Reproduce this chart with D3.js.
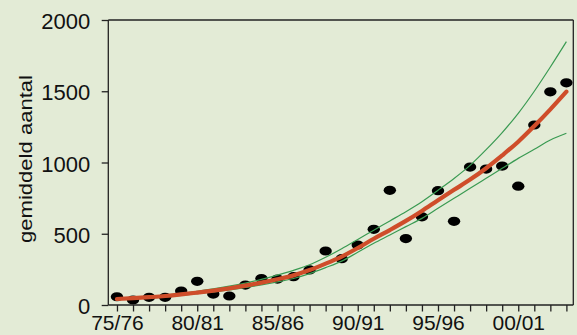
<!DOCTYPE html>
<html>
<head>
<meta charset="utf-8">
<script src="https://cdn.jsdelivr.net/npm/d3@7"></script>
<style>
  html, body { margin: 0; padding: 0; background: #e3ebd6; }
  svg { display: block; }
  text { font-family: "Liberation Sans", Arial, sans-serif; fill: #111; }
</style>
</head>
<body>
<svg id="chart" width="577" height="335"></svg>
<script>
// seasons 75/76 .. 03/04
const seasons = ["75/76","76/77","77/78","78/79","79/80","80/81","81/82","82/83","83/84","84/85",
  "85/86","86/87","87/88","88/89","89/90","90/91","91/92","92/93","93/94","94/95",
  "95/96","96/97","97/98","98/99","99/00","00/01","01/02","02/03","03/04"];
const tickLabels = ["75/76","80/81","85/86","90/91","95/96","00/01"];
const yTicks = [0, 500, 1000, 1500, 2000];
// observed average counts
const observed = [58,35,54,54,98,166,77,63,140,186,182,199,246,379,325,421,531,805,466,619,802,587,968,954,975,834,1263,1496,1559];
// fitted trend
const trend = [42,48,55,63,74,87,101,117,136,157,181,208,245,290,340,400,465,526,590,660,735,808,880,960,1050,1146,1256,1373,1497];
// confidence band
const upper = [46,53,61,70,82,96,113,132,154,180,210,243,282,335,395,460,525,590,655,725,805,888,980,1090,1210,1345,1500,1670,1848];
const lower = [38,44,50,57,67,79,92,106,123,141,162,186,220,262,308,370,433,491,550,608,679,749,819,889,959,1029,1093,1158,1205];

const svg = d3.select("#chart");
const L = 108.3, R = 573.3, T = 20, B = 305;

const x = d3.scaleLinear().domain([-0.54, 28.43]).range([L, R]);
const y = d3.scaleLinear().domain([0, 2000]).range([B, T]);

const axisColor = "#222";

// points
svg.append("g").selectAll("ellipse").data(observed).join("ellipse")
  .attr("cx", (d, i) => x(i)).attr("cy", d => y(d))
  .attr("rx", 6.2).attr("ry", 4.6).attr("fill", "#000");

const line = arr => d3.line().x((d, i) => x(i)).y(d => y(d)).curve(d3.curveMonotoneX)(arr);

svg.append("path").attr("d", line(upper)).attr("fill", "none")
  .attr("stroke", "#3a9a52").attr("stroke-width", 1.2);
svg.append("path").attr("d", line(lower)).attr("fill", "none")
  .attr("stroke", "#3a9a52").attr("stroke-width", 1.2);
svg.append("path").attr("d", line(trend)).attr("fill", "none")
  .attr("stroke", "#cf4d2a").attr("stroke-width", 4.2).attr("stroke-linecap", "round");

// frame
const frame = svg.append("g").attr("stroke", axisColor).attr("stroke-width", 1.3).attr("fill", "none");
frame.append("line").attr("x1", L).attr("x2", R).attr("y1", T).attr("y2", T);
frame.append("line").attr("x1", R).attr("x2", R).attr("y1", T).attr("y2", B);

// y axis
const yAxis = svg.append("g").attr("transform", `translate(${L},0)`)
  .call(d3.axisLeft(y).tickValues(yTicks).tickSize(6.6).tickFormat(d3.format("d")));
yAxis.select(".domain").attr("stroke", axisColor).attr("stroke-width", 1.3)
  .attr("d", `M0,${T}V${B}`);
yAxis.selectAll(".tick line").attr("stroke", axisColor).attr("stroke-width", 1.3);
yAxis.selectAll(".tick text").attr("font-size", 22).attr("font-family", "Liberation Sans, Arial, sans-serif")
  .attr("fill", "#111").attr("dy", null).attr("y", 8.5).attr("x", -18);

// x axis
const xAxis = svg.append("g").attr("transform", `translate(0,${B})`)
  .call(d3.axisBottom(x).tickValues(d3.range(seasons.length)).tickSize(6.5)
    .tickFormat(i => tickLabels.includes(seasons[i]) ? seasons[i] : ""));
xAxis.select(".domain").attr("stroke", axisColor).attr("stroke-width", 1.3)
  .attr("d", `M${L},0H${R}`);
xAxis.selectAll(".tick line").attr("stroke", axisColor).attr("stroke-width", 1.3);
xAxis.selectAll(".tick text").attr("font-size", 21).attr("font-family", "Liberation Sans, Arial, sans-serif")
  .attr("fill", "#111").attr("dy", null).attr("y", 25);

// y title
svg.append("text")
  .attr("transform", "translate(31.5,159) rotate(-90)")
  .attr("text-anchor", "middle")
  .attr("font-size", 19)
  .attr("textLength", 168).attr("lengthAdjust", "spacingAndGlyphs")
  .text("gemiddeld aantal");
</script>
</body>
</html>
